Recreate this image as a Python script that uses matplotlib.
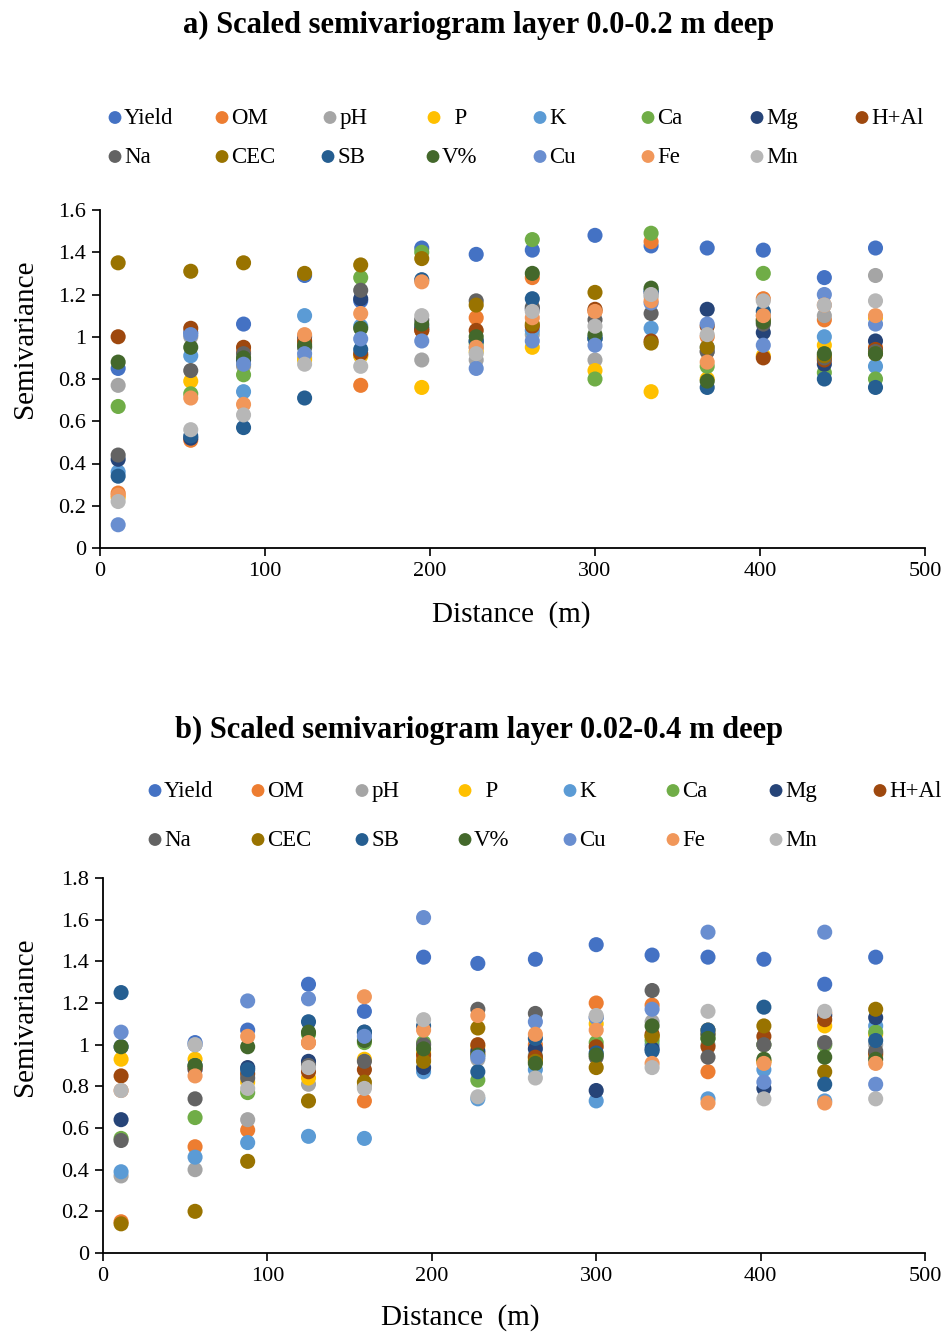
import matplotlib
matplotlib.use("Agg")
import matplotlib.pyplot as plt
from matplotlib.ticker import FuncFormatter

plt.rcParams['font.family'] = ['Liberation Serif', 'DejaVu Serif']

series_names = ["Yield", "OM", "pH", "P", "K", "Ca", "Mg", "H+Al",
                "Na", "CEC", "SB", "V%", "Cu", "Fe", "Mn"]
legend_labels = ["Yield", "OM", "pH", "  P", "K", "Ca", "Mg", "H+Al",
                 "Na", "CEC", "SB", "V%", "Cu", "Fe", "Mn"]
colors = ["#4472C4", "#ED7D31", "#A5A5A5", "#FFC000", "#5B9BD5", "#70AD47",
          "#264478", "#9E480E", "#636363", "#997300", "#255E91", "#43682B",
          "#698ED0", "#F1975A", "#B7B7B7"]

dist_a = [11, 55, 87, 124, 158, 195, 228, 262, 300, 334, 368, 402, 439, 470]
dist_b = [11, 56, 88, 125, 159, 195, 228, 263, 300, 334, 368, 402, 439, 470]

# Panel a: layer 0.0-0.2 m
yield_a = [0.85, 1.02, 1.06, 1.29, 1.17, 1.42, 1.39, 1.41, 1.48, 1.43, 1.42, 1.41, 1.28, 1.42]
om_a    = [0.26, 0.51, 0.93, 0.97, 0.77, 1.03, 1.09, 1.28, 1.12, 1.45, 1.00, 1.18, 1.08, 0.95]
ph_a    = [0.77, 1.00, 0.86, 0.90, 0.91, 0.89, 0.89, 1.01, 0.89, 1.19, 0.93, 1.10, 1.10, 1.29]
p_a     = [0.24, 0.79, 0.87, 0.89, 0.91, 0.76, 0.93, 0.95, 0.84, 0.74, 0.80, 0.91, 0.96, 1.09]
k_a     = [0.36, 0.91, 0.74, 1.10, 1.05, 1.05, 0.95, 1.03, 1.00, 1.04, 0.95, 1.08, 1.00, 0.86]
ca_a    = [0.67, 0.73, 0.82, 0.95, 1.28, 1.40, 0.97, 1.46, 0.80, 1.49, 0.86, 1.30, 0.83, 0.80]
mg_a    = [0.42, 0.52, 0.89, 1.00, 1.18, 1.04, 0.98, 1.13, 0.99, 1.21, 1.13, 1.02, 0.87, 0.98]
hal_a   = [1.00, 1.04, 0.95, 0.98, 0.92, 1.03, 1.03, 1.05, 1.13, 0.98, 1.05, 0.90, 0.89, 0.94]
na_a    = [0.44, 0.84, 0.92, 0.95, 1.22, 1.08, 1.17, 1.14, 1.08, 1.11, 0.93, 1.06, 0.90, 0.93]
cec_a   = [1.35, 1.31, 1.35, 1.30, 1.34, 1.37, 1.15, 1.06, 1.21, 0.97, 0.95, 1.08, 0.91, 0.92]
sb_a    = [0.34, 0.53, 0.57, 0.71, 0.94, 1.27, 0.98, 1.18, 0.99, 1.22, 0.76, 1.12, 0.80, 0.76]
v_a     = [0.88, 0.95, 0.90, 0.96, 1.04, 1.06, 1.00, 1.30, 1.01, 1.23, 0.79, 1.07, 0.92, 0.92]
cu_a    = [0.11, 1.01, 0.87, 0.92, 0.99, 0.98, 0.85, 0.98, 0.96, 1.16, 1.06, 0.96, 1.20, 1.06]
fe_a    = [0.25, 0.71, 0.68, 1.01, 1.11, 1.26, 0.95, 1.09, 1.12, 1.17, 0.88, 1.10, 1.15, 1.10]
mn_a    = [0.22, 0.56, 0.63, 0.87, 0.86, 1.10, 0.92, 1.12, 1.05, 1.20, 1.01, 1.17, 1.15, 1.17]

# Panel b: deeper layer
yield_b = [0.99, 1.01, 1.07, 1.29, 1.16, 1.42, 1.39, 1.41, 1.48, 1.43, 1.42, 1.41, 1.29, 1.42]
om_b    = [0.15, 0.51, 0.59, 1.01, 0.73, 0.93, 0.96, 1.00, 1.20, 1.19, 0.87, 0.92, 1.15, 0.95]
ph_b    = [0.37, 0.40, 0.64, 0.81, 0.80, 1.00, 0.93, 0.95, 1.13, 1.11, 1.00, 1.00, 1.00, 1.00]
p_b     = [0.93, 0.93, 0.82, 0.84, 0.93, 0.96, 0.99, 0.93, 1.10, 1.04, 1.05, 0.92, 1.09, 1.05]
k_b     = [0.39, 0.46, 0.53, 0.56, 0.55, 0.87, 0.74, 0.88, 0.73, 1.00, 0.74, 0.88, 0.73, 1.09]
ca_b    = [0.55, 0.65, 0.77, 1.05, 1.01, 1.01, 0.83, 0.94, 1.01, 1.02, 1.03, 1.00, 1.00, 1.06]
mg_b    = [0.64, 0.88, 0.89, 0.92, 1.06, 0.89, 0.97, 0.98, 0.78, 0.98, 1.05, 0.79, 1.14, 1.13]
hal_b   = [0.85, 0.89, 0.86, 0.87, 0.88, 0.95, 1.00, 0.94, 0.99, 1.05, 0.99, 1.04, 1.12, 0.96]
na_b    = [0.54, 0.74, 0.84, 0.90, 0.92, 1.00, 1.17, 1.15, 0.94, 1.26, 0.94, 1.00, 1.01, 0.97]
cec_b   = [0.14, 0.20, 0.44, 0.73, 0.82, 0.92, 1.08, 0.92, 0.89, 1.04, 1.07, 1.09, 0.87, 1.17]
sb_b    = [1.25, 0.90, 0.88, 1.11, 1.06, 1.09, 0.87, 1.03, 0.96, 0.97, 1.07, 1.18, 0.81, 1.02]
v_b     = [0.99, 0.90, 0.99, 1.06, 1.02, 0.98, 0.95, 0.91, 0.95, 1.09, 1.03, 0.93, 0.94, 0.93]
cu_b    = [1.06, 1.00, 1.21, 1.22, 1.04, 1.61, 0.94, 1.11, 1.13, 1.17, 1.54, 0.82, 1.54, 0.81]
fe_b    = [0.78, 0.85, 1.04, 1.01, 1.23, 1.07, 1.14, 1.05, 1.07, 0.91, 0.72, 0.91, 0.72, 0.91]
mn_b    = [0.78, 1.00, 0.79, 0.89, 0.79, 1.12, 0.75, 0.84, 1.14, 0.89, 1.16, 0.74, 1.16, 0.74]

series_a = [yield_a, om_a, ph_a, p_a, k_a, ca_a, mg_a, hal_a, na_a, cec_a, sb_a, v_a, cu_a, fe_a, mn_a]
series_b = [yield_b, om_b, ph_b, p_b, k_b, ca_b, mg_b, hal_b, na_b, cec_b, sb_b, v_b, cu_b, fe_b, mn_b]

W, H = 947, 1334
fig = plt.figure(figsize=(W / 100, H / 100), dpi=100)

def fx(px):
    return px / W

def fy(py):
    return 1 - py / H

def make_axes(left, top, right, bottom, dist, series, ymax):
    ax = fig.add_axes([fx(left), fy(bottom), (right - left) / W, (bottom - top) / H])
    handles = []
    for vals, c, lab in zip(series, colors, legend_labels):
        h = ax.scatter(dist, vals, s=118, color=c, edgecolors='none', label=lab, zorder=3)
        h.set_clip_on(False)
        handles.append(h)
    ax.set_xlim(0, 500)
    ax.set_ylim(0, ymax)
    ax.set_xticks([0, 100, 200, 300, 400, 500])
    ax.set_yticks([round(0.2 * i, 1) for i in range(int(round(ymax / 0.2)) + 1)])
    ax.yaxis.set_major_formatter(FuncFormatter(lambda v, p: f"{v:g}"))
    for s in ['top', 'right']:
        ax.spines[s].set_visible(False)
    for s in ['left', 'bottom']:
        ax.spines[s].set_linewidth(1.3)
        ax.spines[s].set_color('black')
    ax.tick_params(direction='out', length=6, width=1.2, labelsize=16, pad=4)
    return ax, handles

def make_legend(handles, xs_row1, xs_row2, y1, y2):
    positions = [(x, y1) for x in xs_row1] + [(x, y2) for x in xs_row2]
    for h, lab, (x, y) in zip(handles, legend_labels, positions):
        fig.legend([h], [lab], loc='center left', bbox_to_anchor=(fx(x - 8), fy(y)),
                   frameon=False, fontsize=16.5, handlelength=0.7, handletextpad=0.05,
                   borderpad=0, borderaxespad=0, markerscale=0.85)

# Panel a
ax_a, h_a = make_axes(100, 210, 925, 548, dist_a, series_a, 1.6)
fig.text(fx(479), fy(25), "a) Scaled semivariogram layer 0.0-0.2 m deep",
         ha='center', va='center', fontsize=22, fontweight='bold')
make_legend(h_a, [115, 222, 330, 434, 540, 648, 757, 862],
            [115, 222, 328, 433, 540, 648, 757], 118, 157)
fig.text(fx(511), fy(615), "Distance  (m)", ha='center', va='center', fontsize=21)
fig.text(fx(25), fy(339), "Semivariance", ha='center', va='center', fontsize=21, rotation=90)

# Panel b
ax_b, h_b = make_axes(103, 878, 925, 1253, dist_b, series_b, 1.8)
fig.text(fx(479), fy(730), "b) Scaled semivariogram layer 0.02-0.4 m deep",
         ha='center', va='center', fontsize=22, fontweight='bold')
make_legend(h_b, [155, 258, 362, 465, 570, 673, 776, 880],
            [155, 258, 362, 465, 570, 673, 776], 791, 840)
fig.text(fx(460), fy(1318), "Distance  (m)", ha='center', va='center', fontsize=21)
fig.text(fx(25), fy(1017), "Semivariance", ha='center', va='center', fontsize=21, rotation=90)

fig.savefig("out.png", dpi=100)
